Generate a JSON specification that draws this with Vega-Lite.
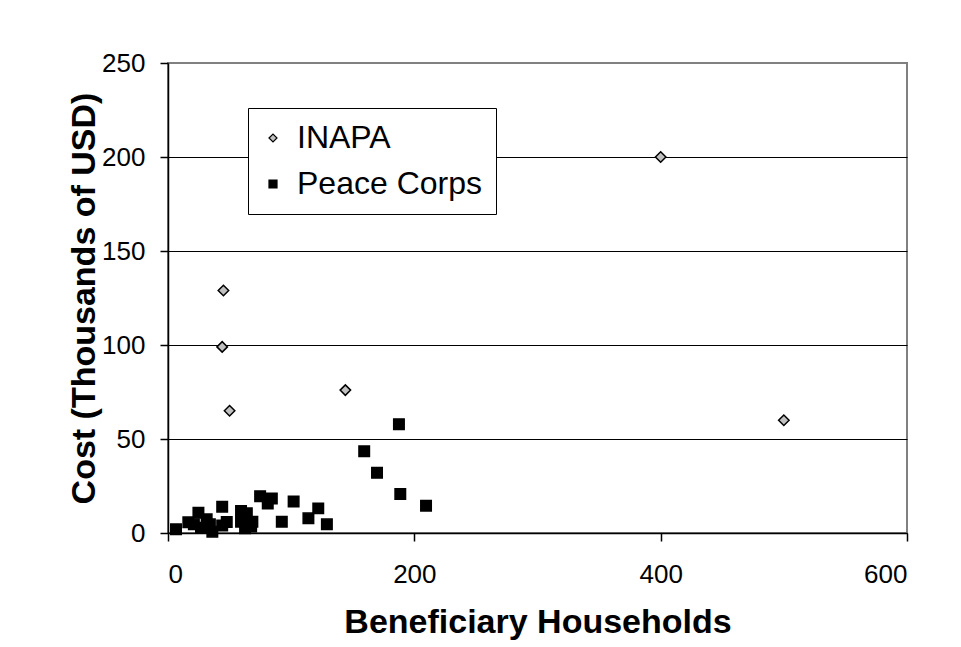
{
  "$schema": "https://vega.github.io/schema/vega-lite/v6.json",
  "autosize": {"type": "none"},
  "padding": {"left": 168, "top": 63, "right": 54, "bottom": 114},
  "width": 739,
  "height": 470,
  "background": "white",
  "config": {
    "view": {"stroke": "#808080", "strokeWidth": 2},
    "font": "Liberation Sans",
    "axis": {
      "labelFont": "Liberation Sans",
      "labelFontSize": 26,
      "labelColor": "black",
      "titleFont": "Liberation Sans",
      "titleFontSize": 34,
      "titleFontWeight": "bold",
      "titleColor": "black",
      "domainColor": "black",
      "domainWidth": 1.5,
      "tickColor": "black",
      "tickWidth": 1.5,
      "tickSize": 8
    },
    "legend": {
      "orient": "none",
      "legendX": 80,
      "legendY": 45,
      "padding": 14,
      "strokeColor": "black",
      "fillColor": "white",
      "labelFont": "Liberation Sans",
      "labelFontSize": 32,
      "labelColor": "black",
      "labelLimit": 500,
      "symbolSize": 64,
      "symbolStrokeWidth": 1.2,
      "symbolOffset": -5,
      "labelOffset": 8,
      "rowPadding": 14
    }
  },
  "data": {
    "values": [
      {"series": "INAPA", "households": 45, "cost": 129},
      {"series": "INAPA", "households": 44, "cost": 99},
      {"series": "INAPA", "households": 50, "cost": 65},
      {"series": "INAPA", "households": 144, "cost": 76},
      {"series": "INAPA", "households": 400, "cost": 200},
      {"series": "INAPA", "households": 500, "cost": 60},
      {"series": "Peace Corps", "households": 6.5, "cost": 2},
      {"series": "Peace Corps", "households": 16.5, "cost": 5.7},
      {"series": "Peace Corps", "households": 21, "cost": 4.6},
      {"series": "Peace Corps", "households": 24.7, "cost": 10.8},
      {"series": "Peace Corps", "households": 26.8, "cost": 2.8},
      {"series": "Peace Corps", "households": 31.4, "cost": 7.3},
      {"series": "Peace Corps", "households": 34, "cost": 4.6},
      {"series": "Peace Corps", "households": 36, "cost": 0.7},
      {"series": "Peace Corps", "households": 44, "cost": 14},
      {"series": "Peace Corps", "households": 44, "cost": 4},
      {"series": "Peace Corps", "households": 47.7, "cost": 5.8},
      {"series": "Peace Corps", "households": 59.3, "cost": 11.7},
      {"series": "Peace Corps", "households": 64, "cost": 10.5},
      {"series": "Peace Corps", "households": 59.3, "cost": 6},
      {"series": "Peace Corps", "households": 62.6, "cost": 2.5},
      {"series": "Peace Corps", "households": 68.5, "cost": 6},
      {"series": "Peace Corps", "households": 67.5, "cost": 3.4},
      {"series": "Peace Corps", "households": 74.8, "cost": 19.6},
      {"series": "Peace Corps", "households": 84.3, "cost": 18.4},
      {"series": "Peace Corps", "households": 81, "cost": 15.7},
      {"series": "Peace Corps", "households": 92.4, "cost": 6},
      {"series": "Peace Corps", "households": 102, "cost": 16.8},
      {"series": "Peace Corps", "households": 114, "cost": 7.8},
      {"series": "Peace Corps", "households": 122, "cost": 13.1},
      {"series": "Peace Corps", "households": 129, "cost": 4.6},
      {"series": "Peace Corps", "households": 159.3, "cost": 43.5},
      {"series": "Peace Corps", "households": 169.7, "cost": 32},
      {"series": "Peace Corps", "households": 187.5, "cost": 57.9},
      {"series": "Peace Corps", "households": 188.6, "cost": 20.7},
      {"series": "Peace Corps", "households": 209.5, "cost": 14.5}
    ]
  },
  "mark": {"type": "point", "filled": true, "strokeWidth": 1.5, "opacity": 1, "size": 110},
  "encoding": {
    "x": {
      "field": "households",
      "type": "quantitative",
      "scale": {"domain": [0, 600], "nice": false, "zero": true},
      "axis": {
        "values": [0, 200, 400, 600],
        "grid": false,
        "labelPadding": 20,
        "title": "Beneficiary Households",
        "titlePadding": 18
      }
    },
    "y": {
      "field": "cost",
      "type": "quantitative",
      "scale": {"domain": [0, 250], "nice": false},
      "axis": {
        "values": [0, 50, 100, 150, 200, 250],
        "grid": true,
        "gridColor": {"condition": {"test": "datum.value === 250", "value": "#808080"}, "value": "black"},
        "gridWidth": 1.2,
        "gridOpacity": 1,
        "labelPadding": 15,
        "title": "Cost (Thousands of USD)",
        "titlePadding": 0
      }
    },
    "shape": {
      "field": "series",
      "type": "nominal",
      "scale": {"domain": ["INAPA", "Peace Corps"], "range": ["diamond", "square"]},
      "legend": {"title": null}
    },
    "fill": {
      "field": "series",
      "type": "nominal",
      "scale": {"domain": ["INAPA", "Peace Corps"], "range": ["#c0c0c0", "#000000"]},
      "legend": {"title": null}
    },
    "stroke": {
      "field": "series",
      "type": "nominal",
      "scale": {"domain": ["INAPA", "Peace Corps"], "range": ["#000000", "#000000"]},
      "legend": {"title": null}
    }
  }
}
